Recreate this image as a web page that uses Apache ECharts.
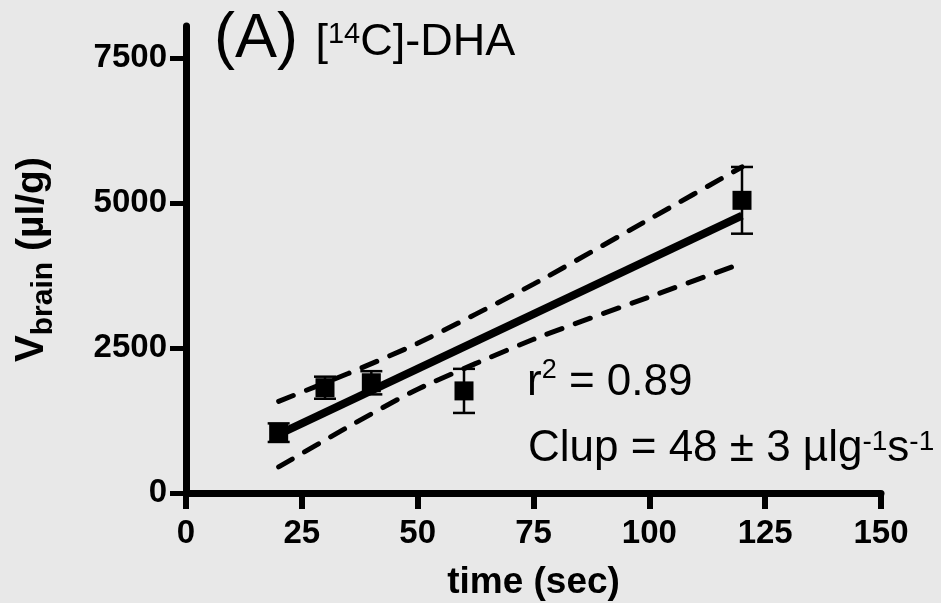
<!DOCTYPE html>
<html>
<head>
<meta charset="utf-8">
<script src="https://cdn.jsdelivr.net/npm/echarts@6.0.0/dist/echarts.min.js"></script>
<style>
  html,body{margin:0;padding:0;background:#e8e8e8}
  #chart{width:941px;height:603px}
</style>
</head>
<body>
<div id="chart"></div>
<script>
// measured points (mean ± error)
const timeSec = [20, 30, 40, 60, 120];
const vbrainMean = [1040, 1815, 1900, 1760, 5045];
const vbrainErr = [160, 190, 200, 380, 575];

// fitted line and its confidence band
const fitX = [20, 120];
const fitY = [1010, 4780];
const bandX = [20, 35, 50, 75, 100, 120];
const bandUpper = [1580, 2060, 2580, 3600, 4720, 5620];
const bandLower = [450, 1140, 1790, 2650, 3380, 3960];

const xTicks = [0, 25, 50, 75, 100, 125, 150];
const yTicks = [0, 2500, 5000, 7500];

const FONT = '"Liberation Sans", Arial, Helvetica, sans-serif';

const chart = echarts.init(document.getElementById('chart'), null, {renderer: 'canvas'});

const pair = (xs, ys) => xs.map((x, i) => [x, ys[i]]);

function errorBar(params, api){
  const x = api.value(0);
  const lo = api.coord([x, api.value(1)]);
  const hi = api.coord([x, api.value(2)]);
  const half = 11;
  const style = {stroke: '#000', lineWidth: 2.5};
  return {
    type: 'group',
    children: [
      {type: 'line', shape: {x1: lo[0], y1: lo[1], x2: hi[0], y2: hi[1]}, style},
      {type: 'line', shape: {x1: lo[0]-half, y1: lo[1], x2: lo[0]+half, y2: lo[1]}, style},
      {type: 'line', shape: {x1: hi[0]-half, y1: hi[1], x2: hi[0]+half, y2: hi[1]}, style}
    ]
  };
}

const tickLabel = {fontSize: 33, fontWeight: 'bold', color: '#000', fontFamily: FONT, formatter: v => String(v)};

chart.setOption({
  animation: false,
  backgroundColor: '#e8e8e8',
  grid: {left: 186, right: 60, top: 26, bottom: 110, containLabel: false, outerBoundsMode: 'none'},
  xAxis: {
    type: 'value', min: 0, max: 150,
    name: 'time (sec)', nameLocation: 'middle', nameGap: 71,
    nameTextStyle: {fontSize: 37, fontWeight: 'bold', color: '#000', fontFamily: FONT},
    axisLine: {show: true, lineStyle: {color: '#000', width: 7}},
    axisTick: {show: true, length: 16, lineStyle: {color: '#000', width: 6}, customValues: xTicks},
    axisLabel: Object.assign({margin: 24, customValues: xTicks}, tickLabel),
    splitLine: {show: false}
  },
  yAxis: {
    type: 'value', min: 0, max: 8050,
    name: '{v|V}{s|brain}{n| (µl/g)}', nameLocation: 'middle', nameRotate: 90, nameGap: 127,
    nameTextStyle: {
      rich: {
        v: {fontSize: 40, fontWeight: 'bold', color: '#000', fontFamily: FONT, verticalAlign: 'bottom', padding: [0, 0, 7, 0]},
        s: {fontSize: 30, fontWeight: 'bold', color: '#000', fontFamily: FONT, verticalAlign: 'bottom'},
        n: {fontSize: 39, fontWeight: 'bold', color: '#000', fontFamily: FONT, verticalAlign: 'bottom', padding: [0, 0, 7, 0]}
      }
    },
    axisLine: {show: true, lineStyle: {color: '#000', width: 7}},
    axisTick: {show: true, length: 16, lineStyle: {color: '#000', width: 5}, customValues: yTicks},
    axisLabel: Object.assign({margin: 19, customValues: yTicks}, tickLabel),
    splitLine: {show: false}
  },
  graphic: [
    {
      type: 'text', x: 214, y: 71,
      style: {
        text: '{a|(A) }{b|[}{p|14}{b|C]-DHA}',
        verticalAlign: 'bottom',
        rich: {
          a: {fontSize: 63, lineHeight: 63, fontFamily: FONT, fill: '#000', verticalAlign: 'bottom'},
          b: {fontSize: 45, lineHeight: 45, fontFamily: FONT, fill: '#000', verticalAlign: 'bottom', padding: [0, 0, 6, 0]},
          p: {fontSize: 29, lineHeight: 29, fontFamily: FONT, fill: '#000', verticalAlign: 'bottom', padding: [0, 0, 22, 0]}
        }
      }
    },
    {
      type: 'text', x: 527, y: 405,
      style: {
        text: '{t|r}{p|2}{t| = 0.89}',
        verticalAlign: 'bottom',
        rich: {
          t: {fontSize: 44, lineHeight: 44, fontFamily: FONT, fill: '#000', verticalAlign: 'bottom'},
          p: {fontSize: 27, lineHeight: 27, fontFamily: FONT, fill: '#000', verticalAlign: 'bottom', padding: [0, 0, 21, 0]}
        }
      }
    },
    {
      type: 'text', x: 528, y: 471,
      style: {
        text: '{t|Clup = 48 ± 3 µlg}{p|-1}{t|s}{p|-1}',
        verticalAlign: 'bottom',
        rich: {
          t: {fontSize: 44, lineHeight: 44, fontFamily: FONT, fill: '#000', verticalAlign: 'bottom'},
          p: {fontSize: 28, lineHeight: 28, fontFamily: FONT, fill: '#000', verticalAlign: 'bottom', padding: [0, 0, 15, 0]}
        }
      }
    }
  ],
  series: [
    {
      type: 'line', data: pair(bandX, bandUpper), showSymbol: false, smooth: 0.2,
      lineStyle: {color: '#000', width: 5, type: [16, 14], cap: 'round'}, z: 2
    },
    {
      type: 'line', data: pair(bandX, bandLower), showSymbol: false, smooth: 0.2,
      lineStyle: {color: '#000', width: 5, type: [16, 14], cap: 'round'}, z: 2
    },
    {
      type: 'line', data: pair(fitX, fitY), showSymbol: false,
      lineStyle: {color: '#000', width: 8}, z: 3
    },
    {
      type: 'custom', renderItem: errorBar, z: 4,
      data: timeSec.map((t, i) => [t, vbrainMean[i] - vbrainErr[i], vbrainMean[i] + vbrainErr[i]])
    },
    {
      type: 'scatter', data: pair(timeSec, vbrainMean), symbol: 'rect', symbolSize: 19,
      itemStyle: {color: '#000', opacity: 1}, z: 5
    }
  ]
});
</script>
</body>
</html>
